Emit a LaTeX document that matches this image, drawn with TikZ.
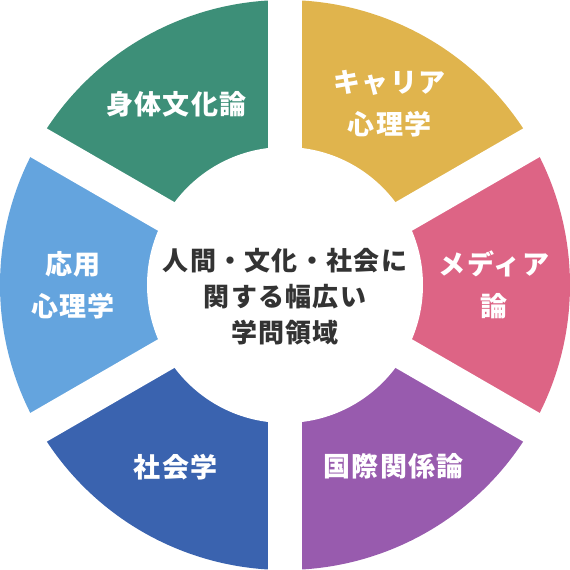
\documentclass[tikz,border=0pt]{standalone}
\usepackage{fontspec}
\setmainfont{Noto Sans CJK JP}
\newfontfamily\jpfont{Noto Sans CJK JP}[LetterSpace=5]
\usepackage{xcolor}
\definecolor{segGreen}{HTML}{3D8F78}
\definecolor{segYellow}{HTML}{E0B44D}
\definecolor{segPink}{HTML}{DD6485}
\definecolor{segPurple}{HTML}{985BAE}
\definecolor{segBlue}{HTML}{3A63AF}
\definecolor{segSky}{HTML}{64A4DE}
\definecolor{hubGray}{HTML}{333333}

\begin{document}
\begin{tikzpicture}[x=1pt,y=1pt,
  seglabel/.style={text=white,align=center,font=\jpfont\bfseries\fontsize{27}{42}\selectfont},
  hubtext/.style={text=hubGray,align=center,font=\jpfont\bfseries\fontsize{26}{36}\selectfont}]
  \useasboundingbox[fill=white] (-285,-285) rectangle (285,285);
  % six ring segments
  \fill[segYellow] (0,0) -- (30:285) arc (30:90:285) -- cycle;
  \fill[segGreen] (0,0) -- (90:285) arc (90:150:285) -- cycle;
  \fill[segSky] (0,0) -- (150:285) arc (150:210:285) -- cycle;
  \fill[segBlue] (0,0) -- (210:285) arc (210:270:285) -- cycle;
  \fill[segPurple] (0,0) -- (270:285) arc (270:330:285) -- cycle;
  \fill[segPink] (0,0) -- (330:285) arc (330:390:285) -- cycle;
  % gaps and hole
  \draw[white,line width=33] (90:290) -- (270:290);
  \draw[white,line width=33] (30:290) -- (210:290);
  \draw[white,line width=33] (150:290) -- (330:290);
  \fill[white] (0,0) circle (138);
  % labels
  \node[seglabel] (career) at (60:209) {キャリア\\心理学};
  \node[seglabel] (body) at (121:211) {身体文化論};
  \node[seglabel] (applied) at (180:212) {応用\\心理学};
  \node[seglabel] (society) at (239:212) {社会学};
  \node[seglabel] (intl) at (301:211) {国際関係論};
  \node[seglabel] (media) at (0:209) {メディア\\論};
  \node[hubtext] (hub) at (0,-12) {人間・文化・社会に\\関する幅広い\\学問領域};
\end{tikzpicture}
\end{document}
